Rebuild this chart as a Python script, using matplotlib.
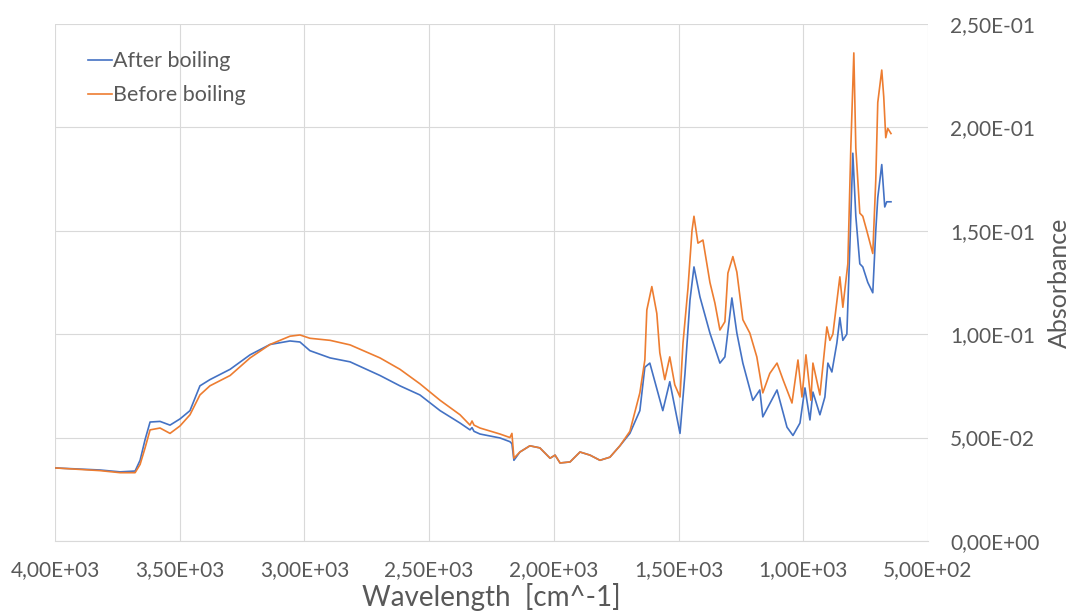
import matplotlib
matplotlib.use("Agg")
import matplotlib.pyplot as plt
from matplotlib.ticker import FuncFormatter, MultipleLocator

# Spectra (wavenumber in cm^-1, absorbance)
wn_after = [4000, 3820, 3739, 3679, 3659, 3639, 3619, 3579, 3539, 3499, 3459, 3419, 3379,
            3298, 3218, 3138, 3058, 3018, 2978, 2897, 2817, 2697, 2617, 2537, 2456, 2376,
            2336, 2328, 2320, 2296, 2216, 2176, 2168, 2160, 2136, 2096, 2056, 2015, 1995,
            1975, 1935, 1895, 1855, 1815, 1775, 1735, 1695, 1655, 1635, 1615, 1563, 1535,
            1494, 1474, 1454, 1438, 1414, 1374, 1334, 1314, 1286, 1266, 1242, 1202, 1174,
            1162, 1105, 1065, 1041, 1013, 993, 973, 961, 933, 913, 901, 885, 865, 853, 841,
            825, 813, 801, 789, 773, 761, 741, 721, 709, 701, 685, 673, 665, 648]
abs_after = [0.0353, 0.0343, 0.0334, 0.0338, 0.0390, 0.0490, 0.0575, 0.0578, 0.0560, 0.0590,
             0.0630, 0.0750, 0.0780, 0.0830, 0.0900, 0.0950, 0.0967, 0.0962, 0.0920, 0.0885,
             0.0866, 0.0800, 0.0750, 0.0706, 0.0630, 0.0570, 0.0537, 0.0548, 0.0530, 0.0517,
             0.0498, 0.0480, 0.0470, 0.0390, 0.0430, 0.0460, 0.0450, 0.0400, 0.0415, 0.0377,
             0.0382, 0.0430, 0.0415, 0.0390, 0.0405, 0.0460, 0.0520, 0.0630, 0.0840, 0.0860,
             0.0630, 0.0770, 0.0520, 0.0810, 0.1165, 0.1325, 0.1180, 0.1005, 0.0860, 0.0890,
             0.1175, 0.1005, 0.0860, 0.0680, 0.0730, 0.0600, 0.0730, 0.0550, 0.0510, 0.0570,
             0.0740, 0.0585, 0.0720, 0.0610, 0.0696, 0.0860, 0.0817, 0.0957, 0.1080, 0.0970,
             0.1000, 0.1420, 0.1875, 0.1570, 0.1340, 0.1325, 0.1250, 0.1200, 0.1500, 0.1660,
             0.1820, 0.1615, 0.1640, 0.1640]

wn_before = [4000, 3820, 3739, 3679, 3659, 3639, 3619, 3579, 3539, 3499, 3459, 3419, 3379,
             3298, 3218, 3138, 3058, 3018, 2978, 2897, 2817, 2697, 2617, 2537, 2456, 2376,
             2336, 2328, 2320, 2296, 2216, 2176, 2168, 2160, 2136, 2096, 2056, 2015, 1995,
             1975, 1935, 1895, 1855, 1815, 1775, 1735, 1695, 1655, 1635, 1627, 1607, 1587,
             1575, 1555, 1535, 1515, 1494, 1482, 1462, 1446, 1438, 1422, 1402, 1374, 1354,
             1334, 1314, 1302, 1282, 1266, 1242, 1214, 1186, 1162, 1134, 1105, 1081, 1045,
             1021, 1005, 989, 969, 961, 933, 905, 893, 881, 853, 841, 821, 809, 797, 789,
             773, 761, 745, 721, 709, 701, 685, 677, 669, 661, 648]
abs_before = [0.0353, 0.0340, 0.0330, 0.0330, 0.0370, 0.0450, 0.0537, 0.0546, 0.0520, 0.0556,
              0.0610, 0.0706, 0.0750, 0.0800, 0.0885, 0.0950, 0.0990, 0.0996, 0.0980, 0.0970,
              0.0948, 0.0885, 0.0830, 0.0760, 0.0680, 0.0610, 0.0560, 0.0580, 0.0560, 0.0546,
              0.0517, 0.0500, 0.0520, 0.0400, 0.0430, 0.0460, 0.0450, 0.0400, 0.0415, 0.0377,
              0.0382, 0.0430, 0.0415, 0.0390, 0.0405, 0.0460, 0.0530, 0.0716, 0.0875, 0.1117,
              0.1230, 0.1100, 0.0910, 0.0780, 0.0890, 0.0755, 0.0696, 0.0957, 0.1223, 0.1500,
              0.1570, 0.1440, 0.1455, 0.1250, 0.1150, 0.1020, 0.1060, 0.1295, 0.1375, 0.1300,
              0.1070, 0.1005, 0.0890, 0.0716, 0.0810, 0.0860, 0.0780, 0.0667, 0.0875, 0.0696,
              0.0900, 0.0680, 0.0860, 0.0706, 0.1035, 0.0970, 0.1000, 0.1277, 0.1130, 0.1340,
              0.1905, 0.2360, 0.1900, 0.1585, 0.1570, 0.1500, 0.1390, 0.1745, 0.2120, 0.2277,
              0.2147, 0.1950, 0.1995, 0.1970]

x_ticks = [4000, 3500, 3000, 2500, 2000, 1500, 1000, 500]

plt.rcParams['font.family'] = ['Lato', 'DejaVu Sans']
text_color = '#595959'

fig = plt.figure(figsize=(10.69, 6.14), dpi=100)
ax = fig.add_axes([0.0515, 0.119, 0.8165, 0.842])

ax.plot(wn_after, abs_after, color='#4472C4', lw=1.2, label='After boiling')
ax.plot(wn_before, abs_before, color='#ED7D31', lw=1.2, label='Before boiling')

ax.set_xlim(4000, 500)
ax.set_ylim(0, 0.25)
ax.set_xticks(x_ticks)
ax.yaxis.set_major_locator(MultipleLocator(0.05))

sci = FuncFormatter(lambda v, p: f"{v:.2E}".replace('.', ','))
ax.xaxis.set_major_formatter(sci)
ax.yaxis.set_major_formatter(sci)

ax.yaxis.tick_right()
ax.yaxis.set_label_position('right')
ax.tick_params(axis='both', length=0, labelsize=15, colors=text_color)
ax.tick_params(axis='x', pad=14)
ax.tick_params(axis='y', pad=16)

ax.grid(True, color='#D9D9D9', lw=0.8)
ax.set_axisbelow(True)
for s in ['top', 'left', 'right']:
    ax.spines[s].set_visible(False)
ax.spines['bottom'].set_color('#D9D9D9')

ax.set_xlabel('Wavelength  [cm^-1]', fontsize=20, color=text_color, labelpad=2)
ax.set_ylabel('Absorbance', fontsize=18, color=text_color)
ax.yaxis.set_label_coords(1.137, 0.5)

leg = ax.legend(loc='upper left', frameon=False, fontsize=15.5, handlelength=1.1,
                handletextpad=0.05, labelspacing=0.65, bbox_to_anchor=(0.016, 0.985))
for t in leg.get_texts():
    t.set_color(text_color)

fig.savefig('out.png', dpi=100)
